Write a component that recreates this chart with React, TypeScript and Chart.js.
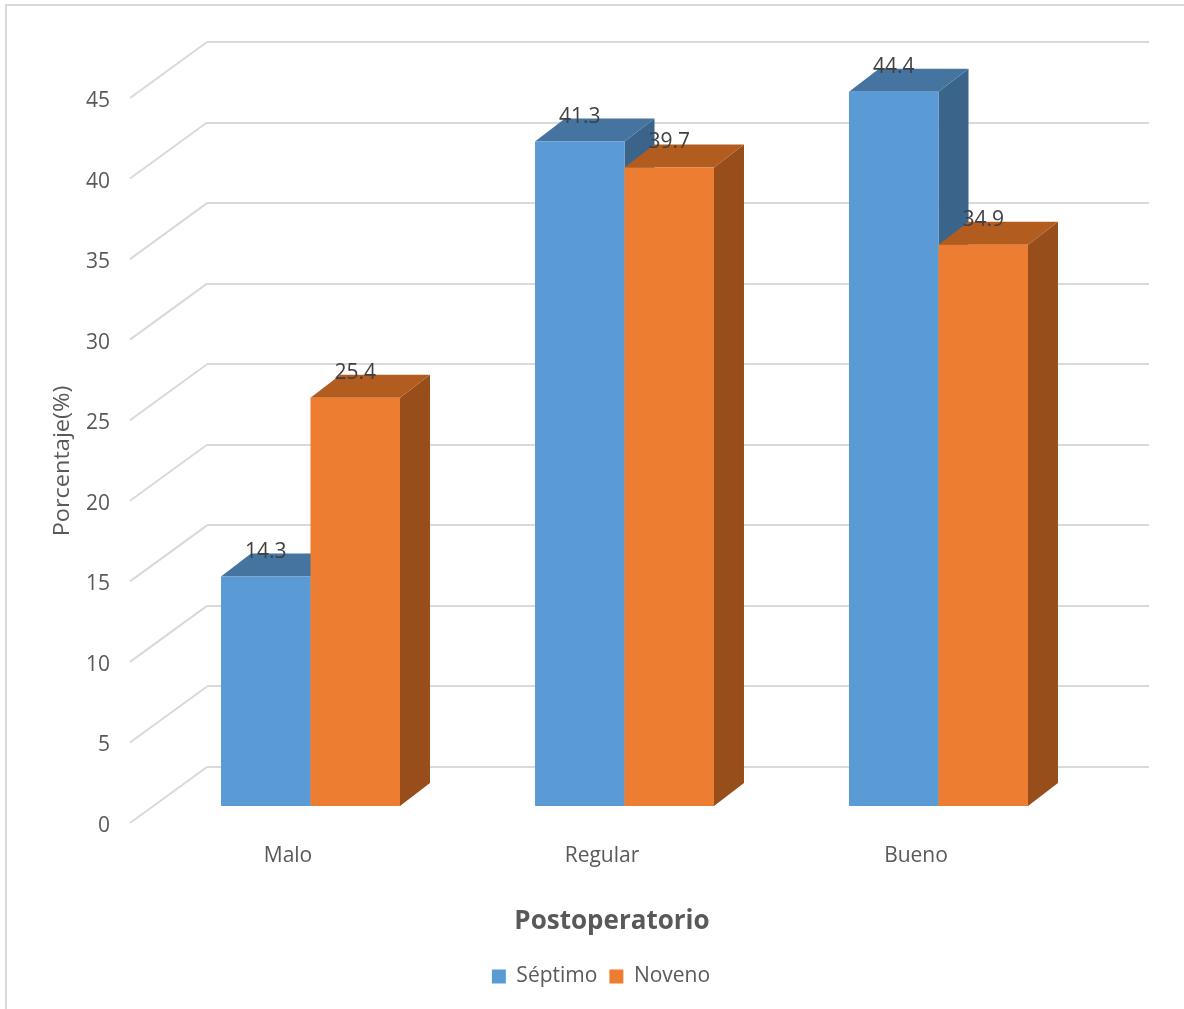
import React, { useEffect, useRef } from "react";
import { Chart, registerables } from "chart.js";

Chart.register(...registerables);

const categories = ["Malo", "Regular", "Bueno"];
const septimo = [14.3, 41.3, 44.4];
const noveno = [25.4, 39.7, 34.9];
const seriesNames = ["Séptimo", "Noveno"];
const yTicksMax = 45;
const yStep = 5;
const yTitle = "Porcentaje(%)";
const xTitle = "Postoperatorio";

const FONT = "'Open Sans', sans-serif";
const GRID = "#d9d9d9";
const TEXT = "#595959";
const faces = [
  { front: "#5b9bd5", top: "#44749f", side: "#3a6489" },
  { front: "#ed7d31", top: "#b35c20", side: "#974e1b" },
];
// Bar plane offset relative to the back wall, and depth of the boxes
const BAR_DX = -53.5;
const BAR_DY = 40;
const DEPTH_X = 30;
const DEPTH_Y = -23;
const WALL_DX = -77;
const WALL_DY = 56;

function poly(ctx: CanvasRenderingContext2D, pts: number[][], fill: string) {
  ctx.beginPath();
  pts.forEach(([x, y], i) => (i ? ctx.lineTo(x, y) : ctx.moveTo(x, y)));
  ctx.closePath();
  ctx.fillStyle = fill;
  ctx.fill();
}

const box3d = {
  id: "box3d",
  beforeDraw(chart: any) {
    const { ctx } = chart;
    ctx.save();
    ctx.strokeStyle = GRID;
    ctx.lineWidth = 2;
    ctx.beginPath();
    ctx.moveTo(6, 1009);
    ctx.lineTo(6, 5);
    ctx.lineTo(1184, 5);
    ctx.stroke();
    ctx.restore();
  },
  beforeDatasetsDraw(chart: any) {
    const { ctx, chartArea, scales } = chart;
    ctx.save();
    ctx.strokeStyle = GRID;
    ctx.lineWidth = 2;
    scales.y.ticks.forEach((t: any) => {
      const y = scales.y.getPixelForValue(t.value);
      ctx.beginPath();
      ctx.moveTo(chartArea.left + WALL_DX, y + WALL_DY);
      ctx.lineTo(chartArea.left, y);
      ctx.stroke();
    });
    ctx.restore();
  },
  // The default back-to-front order would paint Noveno under Séptimo's side
  // face, so each series is painted here, first series first.
  beforeDatasetDraw() {
    return false;
  },
  afterDatasetsDraw(chart: any) {
    const { ctx } = chart;
    chart.data.datasets.forEach((_: any, i: number) => {
      const meta = chart.getDatasetMeta(i);
      const c = faces[i];
      ctx.save();
      ctx.translate(BAR_DX, BAR_DY);
      meta.data.forEach((el: any) => {
        const l = el.x - el.width / 2;
        const r = el.x + el.width / 2;
        const t = el.y;
        const b = el.base;
        poly(ctx, [[r, t], [r + DEPTH_X, t + DEPTH_Y], [r + DEPTH_X, b + DEPTH_Y], [r, b]], c.side);
        poly(ctx, [[l, t], [l + DEPTH_X, t + DEPTH_Y], [r + DEPTH_X, t + DEPTH_Y], [r, t]], c.top);
      });
      meta.controller.draw();
      ctx.restore();
    });

    ctx.save();
    ctx.fillStyle = "#404040";
    ctx.font = `21px ${FONT}`;
    ctx.textAlign = "center";
    ctx.textBaseline = "middle";
    chart.data.datasets.forEach((ds: any, i: number) => {
      chart.getDatasetMeta(i).data.forEach((el: any, j: number) => {
        ctx.fillText(ds.data[j].toFixed(1), el.x + BAR_DX, el.y + BAR_DY - 25);
      });
    });
    // axis titles sit on the front plane, off-centre from the back wall
    ctx.fillStyle = TEXT;
    ctx.save();
    ctx.translate(63, 461);
    ctx.rotate(-Math.PI / 2);
    ctx.scale(1.12, 1);
    ctx.font = `21px ${FONT}`;
    ctx.fillText(yTitle, 0, 0);
    ctx.restore();
    ctx.font = `bold 26px ${FONT}`;
    ctx.fillText(xTitle, 612, 922);
    ctx.restore();
  },
};

export default function App() {
  const ref = useRef<HTMLCanvasElement>(null);
  useEffect(() => {
    document.body.style.margin = "0";
    document.body.style.background = "#ffffff";
    const chart = new Chart(ref.current!, {
      type: "bar",
      data: {
        labels: categories,
        datasets: [
          { label: seriesNames[0], data: septimo, backgroundColor: faces[0].front },
          { label: seriesNames[1], data: noveno, backgroundColor: faces[1].front },
        ],
      },
      plugins: [box3d],
      options: {
        animation: false,
        responsive: false,
        layout: { padding: { left: 53, right: 35, top: 42, bottom: 12 } },
        datasets: { bar: { categoryPercentage: 0.57, barPercentage: 1 } },
        plugins: {
          tooltip: { enabled: false },
          legend: {
            position: "bottom",
            labels: {
              boxWidth: 14,
              boxHeight: 14,
              color: TEXT,
              padding: 12,
              font: { family: FONT, size: 21 },
            },
          },
        },
        scales: {
          x: {
            afterFit: (s: any) => {
              s.height = 187;
            },
            grid: { display: false },
            border: { display: false },
            ticks: {
              color: TEXT,
              font: { family: FONT, size: 21 },
              labelOffset: -76,
              padding: 68,
              maxRotation: 0,
              autoSkip: false,
            },
          },
          y: {
            min: 0,
            max: yTicksMax,
            afterFit: (s: any) => {
              s.width = 154;
              s.paddingTop = 0;
              s.paddingBottom = 0;
            },
            grid: { color: GRID, lineWidth: 2, drawTicks: false },
            border: { display: false },
            ticks: {
              stepSize: yStep,
              color: TEXT,
              font: { family: FONT, size: 21 },
              labelOffset: 59,
              padding: 97,
            },
          },
        },
      },
    } as any);
    return () => chart.destroy();
  }, []);
  return <canvas ref={ref} width={1184} height={1009} style={{ display: "block" }} />;
}
